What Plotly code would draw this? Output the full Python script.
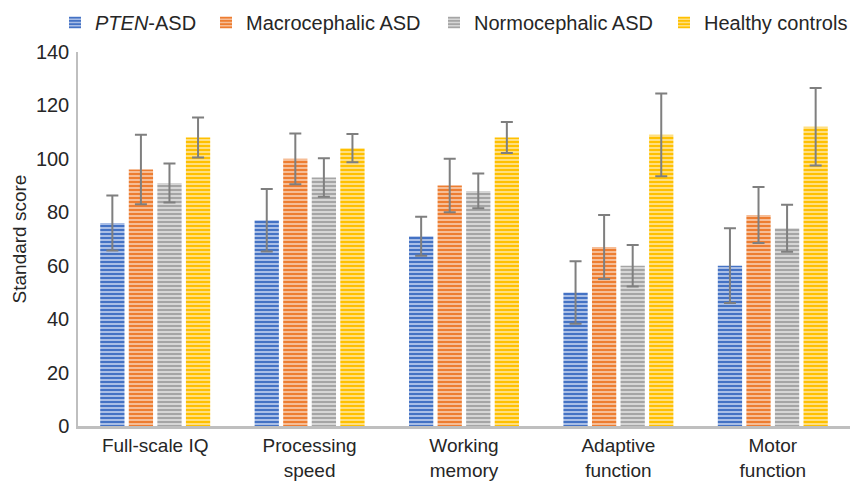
import plotly.graph_objects as go

categories = ["Full-scale IQ", "Processing<br>speed", "Working<br>memory", "Adaptive<br>function", "Motor<br>function"]
series_names = ["<i>PTEN</i>-ASD", "Macrocephalic ASD", "Normocephalic ASD", "Healthy controls"]

pten_asd = [76, 77, 71, 50, 60]
pten_asd_err = [10.3, 11.7, 7.3, 11.7, 14]
macro_asd = [96, 100, 90, 67, 79]
macro_asd_err = [13, 9.5, 10, 12, 10.5]
normo_asd = [91, 93, 88, 60, 74]
normo_asd_err = [7.3, 7.2, 6.5, 7.8, 8.8]
controls = [108, 104, 108, 109, 112]
controls_err = [7.5, 5.3, 5.8, 15.5, 14.5]

y_ticks = [0, 20, 40, 60, 80, 100, 120, 140]

main_colors = ["#4472C4", "#ED7D31", "#A5A5A5", "#FFC000"]
light_colors = ["#A9BEE6", "#F6BD96", "#D6D6D6", "#FFDF80"]

values = [pten_asd, macro_asd, normo_asd, controls]
errors = [pten_asd_err, macro_asd_err, normo_asd_err, controls_err]

FONT = "Liberation Sans, Arial, sans-serif"
TXT = "#262626"

L, R, T, B = 78, 0, 52, 55
W, H = 850, 481
plot_w = W - L - R
plot_h = H - T - B

# legend text start positions (pixels) for each of the 4 legend entries
legend_text_px = [97, 248, 476, 706]

fig = go.Figure()
for i, (name, vals, errs, mc, lc) in enumerate(zip(series_names, values, errors, main_colors, light_colors)):
    fig.add_trace(go.Bar(
        name=name,
        x=categories,
        y=vals,
        legend="legend" if i == 0 else f"legend{i+1}",
        marker=dict(
            color=mc,
            line=dict(width=0),
            pattern=dict(shape="-", fillmode="replace", fgcolor=mc, bgcolor=lc,
                         size=4, solidity=0.5),
        ),
        error_y=dict(type="data", array=errs, visible=True, color="#7F7F7F",
                     thickness=2, width=6),
    ))

legend_layout = {}
for i, px in enumerate(legend_text_px):
    key = "legend" if i == 0 else f"legend{i+1}"
    legend_layout[key] = dict(
        orientation="h",
        x=(px - 42 - L) / plot_w, y=1 + (T - 3) / plot_h,
        xanchor="left", yanchor="top",
        font=dict(family=FONT, size=20, color=TXT),
        itemwidth=30,
        bgcolor="rgba(0,0,0,0)",
    )

fig.update_layout(
    width=W, height=H,
    margin=dict(l=L, r=R, t=T, b=B, autoexpand=False),
    paper_bgcolor="white",
    plot_bgcolor="white",
    barmode="group",
    bargap=0.26,
    bargroupgap=0.15,
    font=dict(family=FONT, size=20, color=TXT),
    showlegend=True,
    xaxis=dict(
        showgrid=False,
        showline=True, linecolor="#BFBFBF", linewidth=3,
        ticks="",
        automargin=False,
        ticklabelstandoff=0,
        tickfont=dict(family=FONT, size=19, color=TXT),
        zeroline=False,
    ),
    yaxis=dict(
        range=[0, 140],
        tickvals=y_ticks,
        showgrid=False,
        zeroline=False,
        automargin=False,
        showline=True, linecolor="#BFBFBF", linewidth=1.5,
        ticks="",
        ticklabelstandoff=3,
        tickfont=dict(family=FONT, size=20, color=TXT),
        title=dict(text="Standard score", font=dict(family=FONT, size=19, color=TXT), standoff=4),
    ),
    **legend_layout,
)

fig.write_html("out.html", config={"displayModeBar": False},
               post_script="document.body.style.margin='0';document.body.style.overflow='hidden';")
